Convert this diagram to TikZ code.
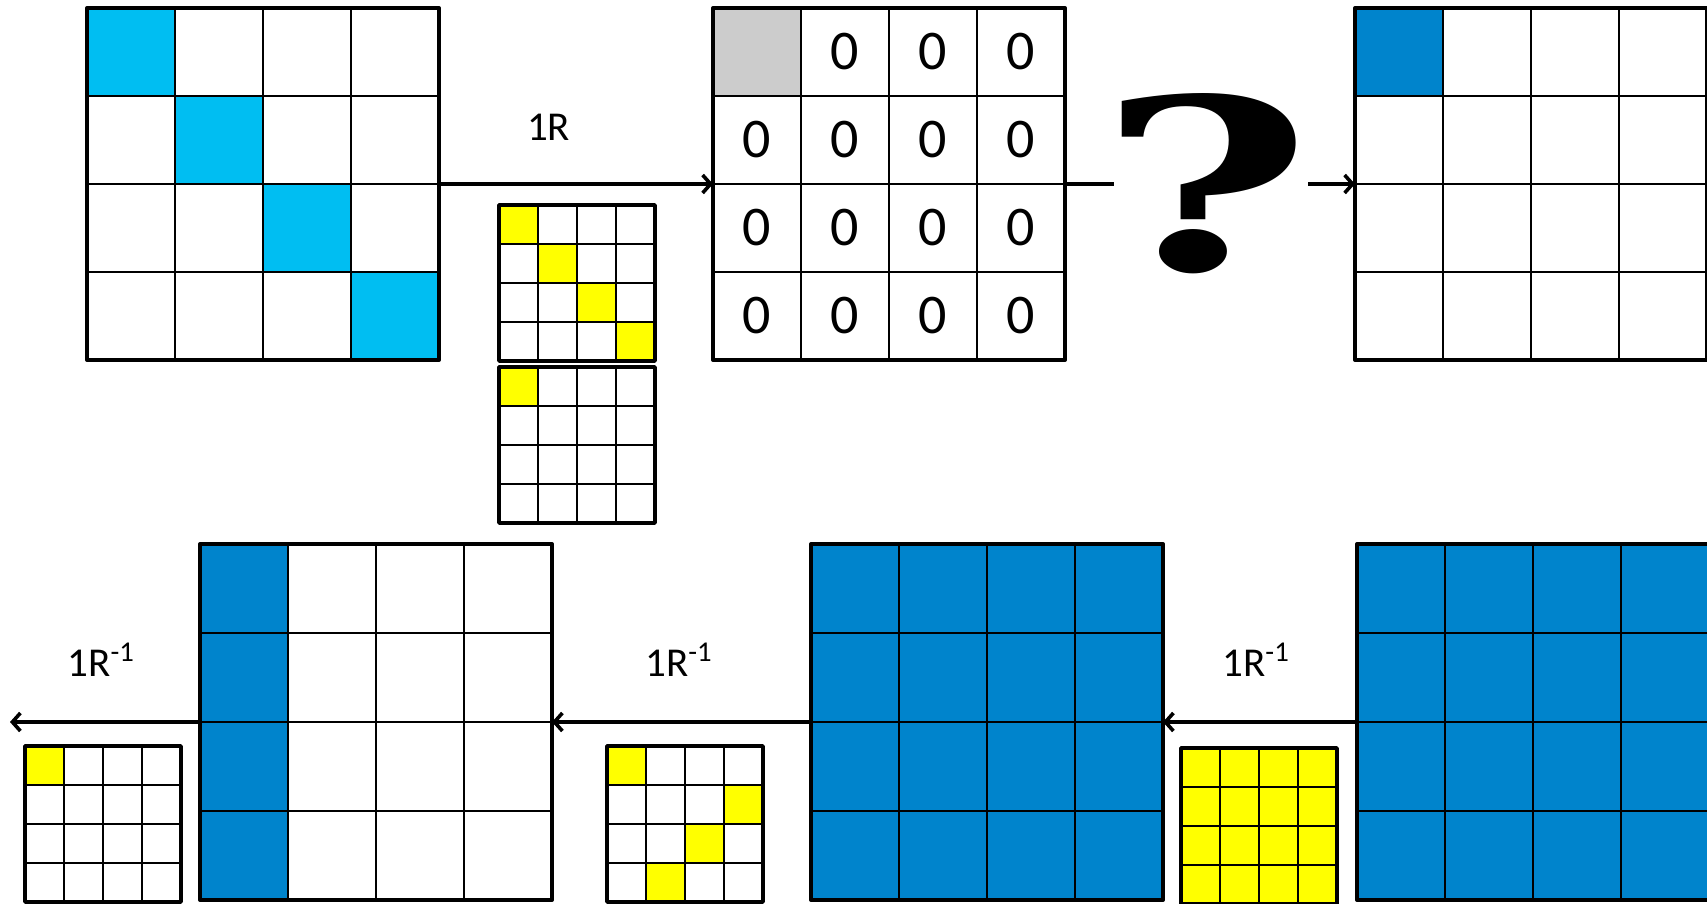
\documentclass[tikz,border=0pt]{standalone}
\usepackage{fontspec}
\setmainfont{Carlito}
\newfontfamily\qfont{DejaVu Serif}
\usepackage{graphicx}
\usetikzlibrary{arrows.meta,positioning,matrix}
\definecolor{ink}{HTML}{000000}
\definecolor{sky}{HTML}{00BEF2}
\definecolor{ocean}{HTML}{0084CC}
\definecolor{lemon}{HTML}{FFFF00}
\definecolor{ash}{HTML}{CCCCCC}

\begin{document}
\begin{tikzpicture}[x=0.5pt,y=-0.5pt,
  cell/.style={draw=ink,line width=1.4pt,inner sep=0pt,outer sep=0pt,anchor=center,minimum width=44pt,minimum height=44pt,font=\fontsize{28}{28}\selectfont},
  tiny/.style={draw=ink,line width=1.4pt,inner sep=0pt,outer sep=0pt,anchor=center,minimum width=19.5pt,minimum height=19.5pt},
  bigmat/.style={matrix of nodes,nodes in empty cells,inner sep=-0.7pt,outer sep=0pt,column sep=-1.4pt,row sep=-1.4pt,anchor=north west,nodes={cell}},
  smallmat/.style={matrix of nodes,nodes in empty cells,inner sep=-0.7pt,outer sep=0pt,column sep=-1.4pt,row sep=-1.4pt,anchor=north west,nodes={tiny}},
  frame/.style={draw=ink,line width=2pt,line join=round},
  thinframe/.style={draw=ink,line width=1.8pt,line join=round},
  sk/.style={fill=sky}, oc/.style={fill=ocean}, ye/.style={fill=lemon}, gr/.style={fill=ash},
  arr/.style={-{Straight Barb[length=4pt,width=9pt,line width=1.8pt]},draw=ink,line width=1.8pt},
  conn/.style={draw=ink,line width=1.8pt},
  lbl/.style={font=\fontsize{20.5}{20.5}\selectfont,inner sep=0pt,above=22pt}]
  \useasboundingbox (0,0) rectangle (1707,904);

  \matrix (A) [bigmat] at (87,8) {
    |[sk]| & & & \\
    & |[sk]| & & \\
    & & |[sk]| & \\
    & & & |[sk]| \\
  };
  \matrix (B) [bigmat] at (713,8) {
    |[gr]| & 0 & 0 & 0 \\
    0 & 0 & 0 & 0 \\
    0 & 0 & 0 & 0 \\
    0 & 0 & 0 & 0 \\
  };
  \matrix (C) [bigmat] at (1355,8) {
    |[oc]| & & & \\
    & & & \\
    & & & \\
    & & & \\
  };
  \matrix (S1) [smallmat] at (499,205) {
    |[ye]| & & & \\
    & |[ye]| & & \\
    & & |[ye]| & \\
    & & & |[ye]| \\
  };
  \matrix (S2) [smallmat] at (499,367) {
    |[ye]| & & & \\
    & & & \\
    & & & \\
    & & & \\
  };
  \node[inner sep=0pt,inner xsep=-5pt] (q) at (1211,184) {\qfont\bfseries\kern-3pt\resizebox{107pt}{88.5pt}{?}\kern3pt};

  \matrix (D) [bigmat,nodes={minimum height=44.5pt}] at (200,544) {
    |[oc]| & & & \\
    |[oc]| & & & \\
    |[oc]| & & & \\
    |[oc]| & & & \\
  };
  \matrix (E) [bigmat,nodes={oc,minimum height=44.5pt}] at (811,544) {
    & & & \\
    & & & \\
    & & & \\
    & & & \\
  };
  \matrix (F) [bigmat,nodes={oc,minimum height=44.5pt}] at (1357,544) {
    & & & \\
    & & & \\
    & & & \\
    & & & \\
  };
  \matrix (Y) [smallmat,nodes={ye}] at (1181,748) {
    & & & \\
    & & & \\
    & & & \\
    & & & \\
  };
  \matrix (M) [smallmat] at (607,746) {
    |[ye]| & & & \\
    & & & |[ye]| \\
    & & |[ye]| & \\
    & |[ye]| & & \\
  };
  \matrix (L) [smallmat] at (25,746) {
    |[ye]| & & & \\
    & & & \\
    & & & \\
    & & & \\
  };

  \foreach \m in {A,B,C,D,E,F} \draw[frame] (\m.north west) rectangle (\m.south east);
  \foreach \m in {S1,S2,Y,M,L} \draw[thinframe] (\m.north west) rectangle (\m.south east);

  \coordinate (out) at (10,722);
  \draw[arr] (A.east) -- node[lbl,pos=0.4,above=21pt] {1R} (B.west);
  \draw[conn] (B.east) -- (q.west);
  \draw[arr] (q.east) -- (C.west);
  \draw[arr] (F.west) -- node[lbl,pos=0.52] {1R\textsuperscript{-1}} (E.east);
  \draw[arr] (E.west) -- node[lbl,pos=0.51] {1R\textsuperscript{-1}} (D.east);
  \draw[arr] (D.west) -- node[lbl,pos=0.52] {1R\textsuperscript{-1}} (D.west -| out);
\end{tikzpicture}
\end{document}
